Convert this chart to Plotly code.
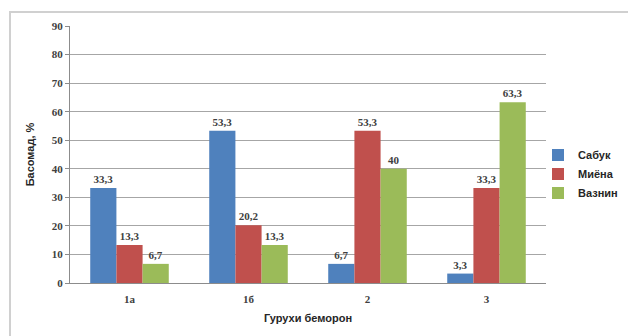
import plotly.graph_objects as go

groups = ["1а", "1б", "2", "3"]
series_names = ["Сабук", "Миёна", "Вазнин"]
sabuk = [33.3, 53.3, 6.7, 3.3]
miyona = [13.3, 20.2, 53.3, 33.3]
vaznin = [6.7, 13.3, 40, 63.3]
y_ticks = [0, 10, 20, 30, 40, 50, 60, 70, 80, 90]

colors = ["#4F81BD", "#C0504D", "#9BBB59"]
label_font = dict(family="Liberation Serif", size=11, color="#404040", weight="bold")
sans_font = dict(family="Liberation Sans", size=11, color="#262626", weight="bold")


def fmt(v):
    return f"{v:g}".replace(".", ",")


fig = go.Figure()
for name, vals, col in zip(series_names, [sabuk, miyona, vaznin], colors):
    fig.add_trace(go.Bar(
        name=name, x=groups, y=vals,
        marker=dict(color=col, line=dict(width=0)),
        text=[fmt(v) for v in vals], textposition="outside",
        textfont=label_font, cliponaxis=False,
    ))

W, H = 628, 336
L, R, T, B = 70, 82, 26, 53
pw, ph = W - L - R, H - T - B

fig.update_layout(
    width=W, height=H,
    margin=dict(l=L, r=R, t=T, b=B, autoexpand=False),
    paper_bgcolor="white", plot_bgcolor="white",
    barmode="group", bargap=0.34, bargroupgap=0,
    showlegend=True,
    legend=dict(xref="container", yref="container",
                x=538 / W, y=1 - 174 / H, xanchor="left", yanchor="middle",
                font=sans_font, itemwidth=30, tracegroupgap=0,
                bgcolor="rgba(0,0,0,0)"),
    xaxis=dict(
        showline=True, linecolor="#8c8c8c", linewidth=1,
        tickfont=label_font, ticks="outside", ticklen=6, tickcolor="rgba(0,0,0,0)",
        title=dict(text="Гурухи беморон", font=sans_font, standoff=10),
    ),
    yaxis=dict(
        range=[0, 90], tickvals=y_ticks, showgrid=True,
        gridcolor="#a6a6a6", gridwidth=1,
        showline=True, linecolor="#8c8c8c", linewidth=1,
        ticks="outside", ticklen=4, tickcolor="#8c8c8c",
        tickfont=label_font, zeroline=False,
        title=dict(text="Басомад, %", font=sans_font, standoff=14),
    ),
    shapes=[dict(
        type="rect", xref="paper", yref="paper",
        x0=(10 - L) / pw, x1=(W + 20 - L) / pw,
        y0=-(H + 20 - T - ph) / ph, y1=(H - B - 12) / ph,
        line=dict(color="#d0d0d0", width=2), fillcolor="rgba(0,0,0,0)",
        layer="below",
    )],
)

fig.write_html("out.html")
